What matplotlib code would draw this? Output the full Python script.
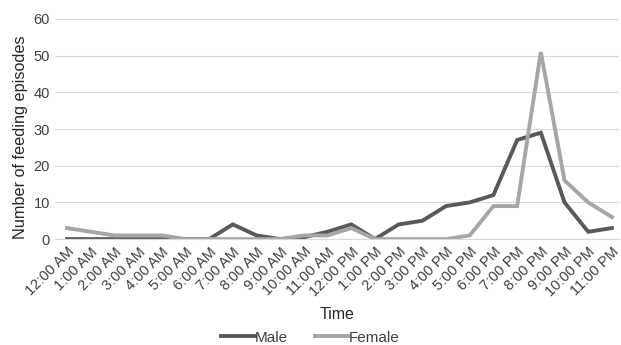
import matplotlib
matplotlib.use("Agg")
import matplotlib.pyplot as plt

plt.rcParams['font.family'] = ['Liberation Sans', 'DejaVu Sans']

times = ["12:00 AM", "1:00 AM", "2:00 AM", "3:00 AM", "4:00 AM", "5:00 AM", "6:00 AM",
         "7:00 AM", "8:00 AM", "9:00 AM", "10:00 AM", "11:00 AM", "12:00 PM", "1:00 PM",
         "2:00 PM", "3:00 PM", "4:00 PM", "5:00 PM", "6:00 PM", "7:00 PM", "8:00 PM",
         "9:00 PM", "10:00 PM", "11:00 PM"]
male = [0, 0, 0, 0, 0, 0, 0, 4, 1, 0, 0.5, 2, 4, 0, 4, 5, 9, 10, 12, 27, 29, 10, 2, 3]
female = [3, 2, 1, 1, 1, 0, 0, 0, 0, 0, 1, 1, 3, 0, 0, 0, 0, 1, 9, 9, 51, 16, 10, 6]
yticks = [0, 10, 20, 30, 40, 50, 60]

fig = plt.figure(figsize=(6.21, 3.45), dpi=100)
ax = fig.add_axes([0.0886, 0.307, 0.908, 0.638])
x = list(range(len(times)))
ax.plot(x, male, color='#595959', lw=2.8, label='Male', solid_joinstyle='miter')
ax.plot(x, female, color='#a6a6a6', lw=2.8, label='Female', solid_joinstyle='miter')
ax.set_ylim(0, 60)
ax.set_xlim(-0.506, 23.295)
ax.set_yticks(yticks)
ax.set_xticks(x)
ax.set_xticklabels(times, rotation=45, ha='right', rotation_mode='anchor', fontsize=10.5, color='#404040')
ax.tick_params(axis='y', labelsize=10.5, labelcolor='#404040', length=0, pad=3.6)
ax.tick_params(axis='x', length=0, pad=4)
ax.grid(axis='y', color='#d9d9d9', lw=0.8)
ax.set_axisbelow(True)
for s in ['top', 'right', 'left']:
    ax.spines[s].set_visible(False)
ax.spines['bottom'].set_color('#d9d9d9')
ax.set_ylabel('Number of feeding episodes', fontsize=11.7, color='#262626')
ax.yaxis.set_label_coords(-0.048, 0.464)
ax.set_xlabel('Time', fontsize=11.5, color='#262626', labelpad=6)
fig.legend(loc='lower center', bbox_to_anchor=(0.5, -0.03), ncol=2, frameon=False,
           fontsize=11, handlelength=2.2, handletextpad=0.0, columnspacing=1.8,
           labelcolor='#404040', borderaxespad=0.3)
fig.savefig('out.png', dpi=100)
